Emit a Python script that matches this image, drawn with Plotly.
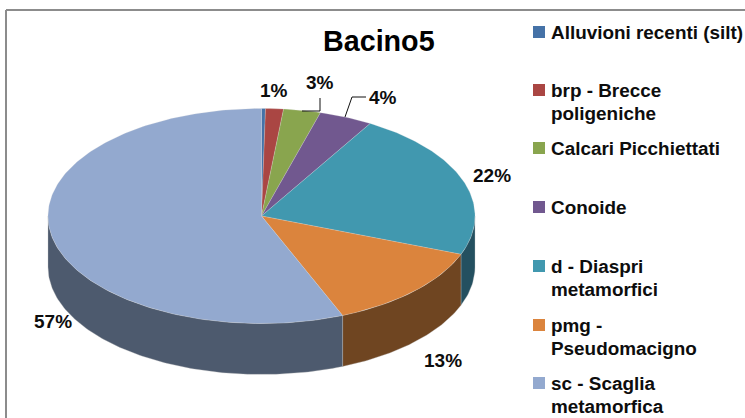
import numpy as np
import plotly.graph_objects as go

# --- data ---
categories = ["Alluvioni recenti (silt)", "brp - Brecce<br>poligeniche", "Calcari Picchiettati",
              "Conoide", "d - Diaspri<br>metamorfici", "pmg -<br>Pseudomacigno", "sc - Scaglia<br>metamorfica"]
values = [0.3, 1.35, 2.8, 4.05, 22.3, 13.0, 56.2]
value_labels = ["", "1%", "3%", "4%", "22%", "13%", "57%"]
colors_top = ["#4572A7", "#AA4643", "#89A54E", "#71588F", "#4198AF", "#DB843D", "#93A9CF"]
colors_side = ["#2A4565", "#672A28", "#52632F", "#443556", "#245060", "#6F4521", "#4D5A6E"]
title_text = "Bacino5"

# --- layout constants (pixels) ---
W, H = 745, 418
CX, CY, RX, RY, DEPTH = 261.5, 216, 213.5, 107.5, 51
LABEL_POS = [None, (274, 90), (320, 82), (383, 97), (492, 175), (443, 360), (53, 321)]
LEADERS = [[(302, 111), (320, 111), (320, 98)], [(345, 117), (352, 97), (366, 97)]]
LEG_Y = [32, 90, 148, 207, 266, 325, 383]
LEG_MARK_X, LEG_TEXT_X, LEG_LINE = 539, 549, 23
FONT = "Liberation Sans"
TEXT = "#0d0d0d"


def rim(t0, t1, dy=0.0):
    t = np.linspace(t0, t1, max(int(abs(t1 - t0) * 60), 2))
    return CX + RX * np.sin(t), CY - RY * np.cos(t) + dy


fig = go.Figure()
fractions = np.array(values) / np.sum(values)
edges = np.concatenate([[0], np.cumsum(fractions)]) * 2 * np.pi

# side walls (only the front half, t between 90 and 270 degrees)
for i in range(len(values)):
    a, b = max(edges[i], np.pi / 2), min(edges[i + 1], 3 * np.pi / 2)
    if b <= a:
        continue
    xt, yt = rim(a, b)
    xb, yb = rim(b, a, DEPTH)
    fig.add_trace(go.Scatter(x=np.r_[xt, xb, xt[0]], y=np.r_[yt, yb, yt[0]], mode="lines", fill="toself",
                             fillcolor=colors_side[i], line=dict(color="rgba(190,190,190,0.55)", width=0.6),
                             hoverinfo="skip", showlegend=False))

# top face
for i in range(len(values)):
    x, y = rim(edges[i], edges[i + 1])
    fig.add_trace(go.Scatter(x=np.r_[CX, x, CX], y=np.r_[CY, y, CY], mode="lines", fill="toself",
                             fillcolor=colors_top[i], line=dict(color="rgba(225,225,225,0.45)", width=0.5),
                             name=categories[i].replace("<br>", " "), hoverinfo="name", showlegend=False))

# leader lines
for pts in LEADERS:
    fig.add_trace(go.Scatter(x=[p[0] for p in pts], y=[p[1] for p in pts], mode="lines",
                             line=dict(color="#111111", width=1), hoverinfo="skip", showlegend=False))

# legend markers
fig.add_trace(go.Scatter(x=[LEG_MARK_X] * len(categories), y=LEG_Y, mode="markers",
                         marker=dict(symbol="square", size=12, color=colors_top, line=dict(width=0)),
                         hoverinfo="skip", showlegend=False))

ann = [dict(x=378.5, y=41, text=f"<b>{title_text}</b>", font=dict(family=FONT, size=28.7, color="#000000"))]
for pos, lab in zip(LABEL_POS, value_labels):
    if pos:
        ann.append(dict(x=pos[0], y=pos[1], text=f"<b>{lab}</b>", font=dict(family=FONT, size=19, color=TEXT)))
for y0, cat in zip(LEG_Y, categories):
    for j, line in enumerate(cat.split("<br>")):
        ann.append(dict(x=LEG_TEXT_X, y=y0 + j * LEG_LINE, text=f"<b>{line}</b>", xanchor="left",
                        font=dict(family=FONT, size=18.9, color=TEXT)))
for a in ann:
    a.setdefault("xanchor", "center")
    a.update(yanchor="middle", xref="x", yref="y", showarrow=False)

shapes = [dict(type="line", x0=6, x1=W, y0=10, y1=10, xref="x", yref="y", line=dict(color="#8c8c8c", width=2)),
          dict(type="line", x0=6, x1=6, y0=10, y1=H, xref="x", yref="y", line=dict(color="#8c8c8c", width=2))]

fig.update_layout(width=W, height=H, margin=dict(l=0, r=0, t=0, b=0), paper_bgcolor="white", plot_bgcolor="white",
                  showlegend=False, annotations=ann, shapes=shapes,
                  xaxis=dict(range=[0, W], visible=False, fixedrange=True),
                  yaxis=dict(range=[H, 0], visible=False, fixedrange=True))
fig.write_html("out.html", config=dict(displayModeBar=False),
               post_script="document.body.style.margin='0';document.body.style.overflow='hidden';")
